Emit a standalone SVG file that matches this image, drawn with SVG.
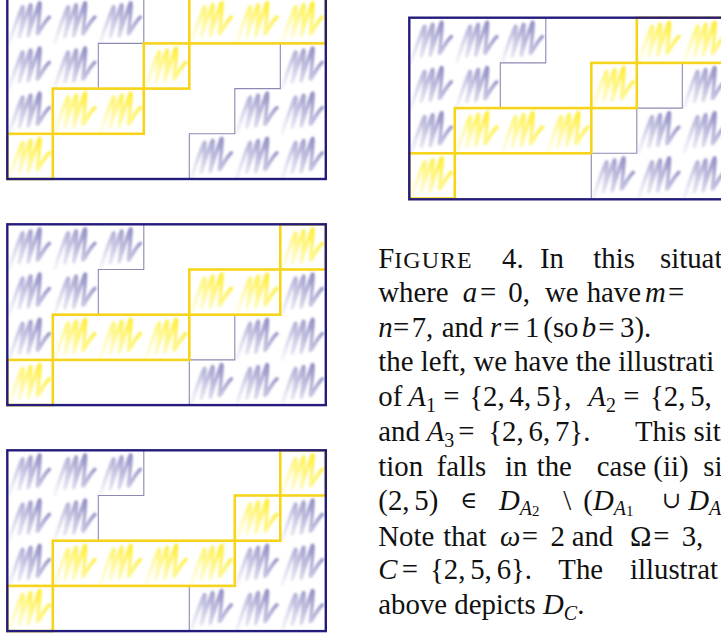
<svg xmlns="http://www.w3.org/2000/svg" xmlns:xlink="http://www.w3.org/1999/xlink" width="721" height="637" viewBox="0 0 721 637">
<style>
.frame{fill:none;stroke:#231c7c;stroke-width:2.4}
.grey{fill:none;stroke:#8c89b2;stroke-width:1.1}
.yl{fill:none;stroke:#f7d41c;stroke-width:2.6}
.sb{stroke:url(#gb);fill:none;stroke-width:3.6;stroke-linejoin:round;stroke-linecap:round;filter:url(#soft)}
.sy{stroke:url(#gy);fill:none;stroke-width:3.6;stroke-linejoin:round;stroke-linecap:round;filter:url(#soft)}
text{font-family:"Liberation Serif","DejaVu Serif",serif;font-size:28.8px;fill:#111}
.i{font-style:italic}
.s{font-size:20px}
.ss{font-size:15px}
.op{font-size:23px}
</style>
<defs>
<filter id="soft" x="-20%" y="-20%" width="140%" height="140%"><feGaussianBlur stdDeviation="0.8"/></filter>
<linearGradient id="gb" x1="1" y1="0" x2="0" y2="1">
<stop offset="0" stop-color="#4f4ca0" stop-opacity="0.72"/>
<stop offset="0.45" stop-color="#6b68b2" stop-opacity="0.45"/>
<stop offset="1" stop-color="#aeacd8" stop-opacity="0.14"/>
</linearGradient>
<linearGradient id="gy" x1="1" y1="0" x2="0" y2="1">
<stop offset="0" stop-color="#ffe600" stop-opacity="0.9"/>
<stop offset="0.45" stop-color="#fff033" stop-opacity="0.6"/>
<stop offset="1" stop-color="#fff7a0" stop-opacity="0.25"/>
</linearGradient>
<path id="scrib" d="M2,44 C6,32 11,17 15,9 C17,5 14,30 12,38 C11,42 19,16 23,7 C25,3 22,30 21,37 C20,41 28,14 32,5 C34,1 31,28 30,35 C30,39 36,24 42,19"/>
<g id="blue">
<use xlink:href="#scrib" class="sb" x="0" y="0"/>
<use xlink:href="#scrib" class="sb" x="45.5" y="0"/>
<use xlink:href="#scrib" class="sb" x="91" y="0"/>
<use xlink:href="#scrib" class="sb" x="0" y="45.2"/>
<use xlink:href="#scrib" class="sb" x="45.5" y="45.2"/>
<use xlink:href="#scrib" class="sb" x="273" y="45.2"/>
<use xlink:href="#scrib" class="sb" x="0" y="90.4"/>
<use xlink:href="#scrib" class="sb" x="227.5" y="90.4"/>
<use xlink:href="#scrib" class="sb" x="273" y="90.4"/>
<use xlink:href="#scrib" class="sb" x="182" y="135.6"/>
<use xlink:href="#scrib" class="sb" x="227.5" y="135.6"/>
<use xlink:href="#scrib" class="sb" x="273" y="135.6"/>
</g>
<path id="stairs" d="M136.5,0 V45.2 H91 V90.4 H45.5 V135.6 H0 M182,180.8 V135.6 H227.5 V90.4 H273 V45.2 H318.5"/>
</defs>

<g id="panel-a" transform="translate(7.3,-1.8)">
<use xlink:href="#blue"/>
<use xlink:href="#scrib" class="sy" x="0" y="135.6"/>
<use xlink:href="#scrib" class="sy" x="45.5" y="90.4"/>
<use xlink:href="#scrib" class="sy" x="91" y="90.4"/>
<use xlink:href="#scrib" class="sy" x="136.5" y="45.2"/>
<use xlink:href="#scrib" class="sy" x="182" y="0"/>
<use xlink:href="#scrib" class="sy" x="227.5" y="0"/>
<use xlink:href="#scrib" class="sy" x="273" y="0"/>
<use xlink:href="#stairs" class="grey"/>
<rect class="yl" x="0" y="135.6" width="45.5" height="45.2"/>
<rect class="yl" x="45.5" y="90.4" width="91" height="45.2"/>
<rect class="yl" x="136.5" y="45.2" width="45.5" height="45.2"/>
<rect class="yl" x="182" y="0" width="136.5" height="45.2"/>
<rect class="frame" x="0" y="0" width="318.5" height="180.8"/>
</g>

<g id="panel-b" transform="translate(409.3,17.7)">
<use xlink:href="#blue"/>
<use xlink:href="#scrib" class="sy" x="0" y="135.6"/>
<use xlink:href="#scrib" class="sy" x="45.5" y="90.4"/>
<use xlink:href="#scrib" class="sy" x="91" y="90.4"/>
<use xlink:href="#scrib" class="sy" x="136.5" y="90.4"/>
<use xlink:href="#scrib" class="sy" x="182" y="45.2"/>
<use xlink:href="#scrib" class="sy" x="227.5" y="0"/>
<use xlink:href="#scrib" class="sy" x="273" y="0"/>
<use xlink:href="#stairs" class="grey"/>
<rect class="yl" x="0" y="135.6" width="45.5" height="45.2"/>
<rect class="yl" x="45.5" y="90.4" width="136.5" height="45.2"/>
<rect class="yl" x="182" y="45.2" width="45.5" height="45.2"/>
<rect class="yl" x="227.5" y="0" width="91" height="45.2"/>
<rect class="frame" x="0" y="0" width="318.5" height="181.6"/>
</g>

<g id="panel-c" transform="translate(7.3,224.3)">
<use xlink:href="#blue"/>
<use xlink:href="#scrib" class="sy" x="0" y="135.6"/>
<use xlink:href="#scrib" class="sy" x="45.5" y="90.4"/>
<use xlink:href="#scrib" class="sy" x="91" y="90.4"/>
<use xlink:href="#scrib" class="sy" x="136.5" y="90.4"/>
<use xlink:href="#scrib" class="sy" x="182" y="45.2"/>
<use xlink:href="#scrib" class="sy" x="227.5" y="45.2"/>
<use xlink:href="#scrib" class="sy" x="273" y="0"/>
<use xlink:href="#stairs" class="grey"/>
<rect class="yl" x="0" y="135.6" width="45.5" height="45.2"/>
<rect class="yl" x="45.5" y="90.4" width="136.5" height="45.2"/>
<rect class="yl" x="182" y="45.2" width="91" height="45.2"/>
<rect class="yl" x="273" y="0" width="45.5" height="45.2"/>
<rect class="frame" x="0" y="0" width="318.5" height="180.8"/>
</g>

<g id="panel-d" transform="translate(7.3,450.3)">
<use xlink:href="#blue"/>
<use xlink:href="#scrib" class="sy" x="0" y="135.6"/>
<use xlink:href="#scrib" class="sy" x="45.5" y="90.4"/>
<use xlink:href="#scrib" class="sy" x="91" y="90.4"/>
<use xlink:href="#scrib" class="sy" x="136.5" y="90.4"/>
<use xlink:href="#scrib" class="sy" x="182" y="90.4"/>
<use xlink:href="#scrib" class="sy" x="227.5" y="45.2"/>
<use xlink:href="#scrib" class="sy" x="273" y="0"/>
<use xlink:href="#stairs" class="grey"/>
<rect class="yl" x="0" y="135.6" width="45.5" height="45.2"/>
<rect class="yl" x="45.5" y="90.4" width="182" height="45.2"/>
<rect class="yl" x="227.5" y="45.2" width="45.5" height="45.2"/>
<rect class="yl" x="273" y="0" width="45.5" height="45.2"/>
<rect class="frame" x="0" y="0" width="318.5" height="180.8"/>
</g>

<g id="caption">
<text x="378.3" y="267.5">F<tspan font-size="24" letter-spacing="1">IGURE</tspan></text>
<text x="502" y="267.5">4.</text>
<text x="540" y="267.5">In</text>
<text x="593.3" y="267.5">this</text>
<text x="660" y="267.5">situat</text>

<text x="378.3" y="302">where</text>
<text class="i" x="462.7" y="302">a</text>
<text x="480" y="302">=</text>
<text x="508.3" y="302">0,</text>
<text x="545" y="302">we</text>
<text x="586.7" y="302">have</text>
<text class="i" x="645" y="302">m</text>
<text x="668" y="302">=</text>

<text class="i" x="378.3" y="336.5">n</text>
<text x="393" y="336.5">=</text>
<text x="411.7" y="336.5">7,</text>
<text x="441.7" y="336.5">and</text>
<text class="i" x="490" y="336.5">r</text>
<text x="503.3" y="336.5">=</text>
<text x="525" y="336.5">1</text>
<text x="543.3" y="336.5">(so</text>
<text class="i" x="581.7" y="336.5">b</text>
<text x="598.3" y="336.5">=</text>
<text x="620" y="336.5">3).</text>

<text x="378.3" y="371">the left, we have the illustrati</text>

<text x="378.3" y="406">of</text>
<text x="408.3" y="406"><tspan class="i">A</tspan><tspan class="s" dy="6">1</tspan></text>
<text x="443.3" y="406">=</text>
<text x="469.3" y="406">{2,<tspan dx="4.8">4,</tspan><tspan dx="4.8">5},</tspan></text>
<text x="588.3" y="406"><tspan class="i">A</tspan><tspan class="s" dy="6">2</tspan></text>
<text x="623.3" y="406">=</text>
<text x="650" y="406">{2,<tspan dx="4.8">5,</tspan></text>

<text x="378.3" y="441">and</text>
<text x="426.7" y="441"><tspan class="i">A</tspan><tspan class="s" dy="6">3</tspan></text>
<text x="458.3" y="441">=</text>
<text x="488.3" y="441">{2,<tspan dx="4.8">6,</tspan><tspan dx="4.8">7}.</tspan></text>
<text x="635" y="441">This</text>
<text x="693.5" y="441">sit</text>

<text x="378.3" y="475.5">tion</text>
<text x="436.7" y="475.5">falls</text>
<text x="505" y="475.5">in</text>
<text x="536.7" y="475.5">the</text>
<text x="596.7" y="475.5">case</text>
<text x="653.3" y="475.5">(ii)</text>
<text x="703.3" y="475.5">si</text>

<text x="378.3" y="510">(2,<tspan dx="4.8">5)</tspan></text>
<text class="op" x="460" y="508">∈</text>
<text x="499" y="510"><tspan class="i">D</tspan><tspan class="i s" dy="5">A</tspan><tspan class="ss" dy="1">2</tspan></text>
<text x="563.3" y="510">\</text>
<text x="583.3" y="510">(<tspan class="i">D</tspan><tspan class="i s" dy="5">A</tspan><tspan class="ss" dy="1">1</tspan></text>
<text class="op" x="662" y="508">∪</text>
<text x="688.3" y="510"><tspan class="i">D</tspan><tspan class="i s" dy="5">A</tspan></text>

<text x="378.3" y="545.5">Note</text>
<text x="443.3" y="545.5">that</text>
<text class="i" x="500" y="545.5">ω</text>
<text x="521.7" y="545.5">=</text>
<text x="550.5" y="545.5">2</text>
<text x="571.7" y="545.5">and</text>
<text x="630" y="545.5">Ω</text>
<text x="653.3" y="545.5">=</text>
<text x="681.7" y="545.5">3,</text>

<text class="i" x="378.3" y="579">C</text>
<text x="401.7" y="579">=</text>
<text x="430" y="579">{2,<tspan dx="4.8">5,</tspan><tspan dx="4.8">6}.</tspan></text>
<text x="558.3" y="579">The</text>
<text x="630" y="579">illustrat</text>

<text x="378.3" y="613.5">above depicts <tspan class="i">D</tspan><tspan class="i s" dy="6">C</tspan><tspan dy="-6">.</tspan></text>
</g>
</svg>
